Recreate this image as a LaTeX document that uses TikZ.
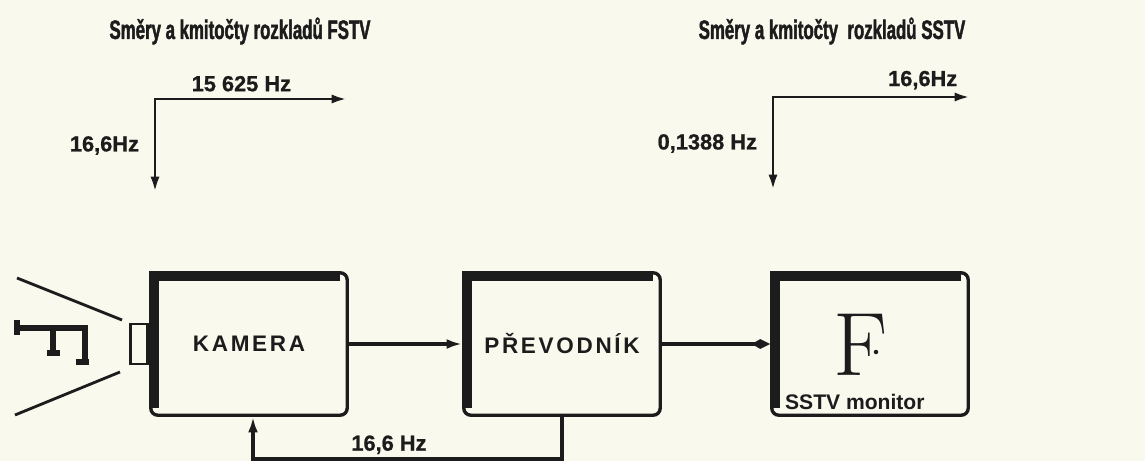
\documentclass[tikz,border=0pt]{standalone}
\usepackage{fontspec}
\setsansfont{Liberation Sans}
\newfontfamily\headfont{Liberation Sans}[FakeStretch=0.63,FakeBold=1.5]
\newfontfamily\boxfont{Liberation Sans}[LetterSpace=12]
\newfontfamily\freqfont{Liberation Sans}[FakeBold=0.8]
\usepackage{xcolor}
\usetikzlibrary{arrows.meta}
\definecolor{paper}{RGB}{250,249,238}
\definecolor{ink}{RGB}{28,28,28}

\begin{document}
\begin{tikzpicture}[x=0.025cm,y=-0.025cm,
  unit/.style={draw=ink,line width=2.4pt,rounded corners=5pt,
    minimum width=4.91cm,minimum height=3.56cm,text=ink,
    font=\boxfont\bfseries\fontsize{16}{18}\selectfont},
  heavy/.style={draw=ink,line width=7pt,line join=miter},
  sig/.style={draw=ink,line width=2.3pt,-{Latex[length=11pt,width=7pt]}},
  axis/.style={draw=ink,line width=2.1pt,{Latex[length=11pt,width=6.5pt]}-{Latex[length=11pt,width=6.5pt]}},
  freq/.style={text=ink,font=\freqfont\bfseries\fontsize{15.5}{18}\selectfont},
  head/.style={text=ink,font=\headfont\bfseries\fontsize{19}{21}\selectfont}]
  \fill[paper] (0,0) rectangle (1145,461);
  % scan directions
  \node[head] (ftitle) at (240,31) {Směry a kmitočty rozkladů FSTV};
  \node[head] (stitle) at (832,31) {Směry a kmitočty\ \ rozkladů SSTV};
  \coordinate (fo) at (155,99);
  \coordinate (fx) at (347,99);
  \coordinate (fy) at (155,192);
  \draw[axis] (fx) -- node[freq,pos=0.55,above=1pt] (fxlab) {15 625 Hz}
    (fo) -- node[freq,midway,left=7pt] (fylab) {16,6Hz} (fy);
  \coordinate (so) at (773,97);
  \coordinate (sx) at (970,97);
  \coordinate (sy) at (773,190);
  \draw[axis] (sx) -- node[freq,pos=0.24,above=1pt] (sxlab) {16,6Hz}
    (so) -- node[freq,midway,left=7pt] (sylab) {0,1388 Hz} (sy);
  % blocks
  \node[unit] (cam) at (249,344) {KAMERA};
  \node[unit] (conv) at (562,344) {PŘEVODNÍK};
  \node[unit] (mon) at (870,344) {};
  \foreach \b in {cam,conv,mon}
    \draw[heavy] ([shift={(3.5pt,6pt)}]\b.south west)
      -- ([shift={(3.5pt,-3.5pt)}]\b.north west)
      -- ([shift={(-6pt,-3.5pt)}]\b.north east);
  \node[text=ink,inner sep=0pt,font=\rmfamily\fontsize{64}{64}\selectfont] (img) at (861,345) {F};
  \fill[ink] (876,352) circle (1.6pt);
  \node[anchor=base west,inner sep=0pt,text=ink,
    font=\sffamily\bfseries\fontsize{15}{17}\selectfont] (tag)
    at ([shift={(10.5pt,5.5pt)}]mon.south west) {SSTV monitor};
  % object and lens
  \node[draw=ink,line width=2pt,minimum width=0.42cm,minimum height=1cm,
    anchor=east] (lens) at (cam.west) {};
  \draw[ink,line width=2pt] (122,320) -- (17,278);
  \draw[ink,line width=2pt] (120,372) -- (15,415);
  \draw[ink,line width=4.5pt,line join=miter] (17,320) -- (17,335);
  \draw[ink,line width=4.5pt,line join=miter] (15,328) -- (85,328) -- (85,363);
  \draw[ink,line width=4pt] (53,328) -- (53,353);
  \draw[ink,line width=4pt] (47,353) -- (60,353) (76,362) -- (89,362);
  % signal path
  \draw[sig] (cam.east) -- (conv.west);
  \draw[draw=ink,line width=2.3pt,-{Kite[length=13pt,width=7pt,inset=6pt]}] (conv.east) -- (mon.west);
  \coordinate (fb) at (253,459);
  \draw[sig] (conv.south) |- (fb) -- (fb |- cam.south);
  \path (fb) -- (conv.south |- fb) node[freq,pos=0.44,above=0pt] (fblab) {16,6 Hz};
\end{tikzpicture}
\end{document}
